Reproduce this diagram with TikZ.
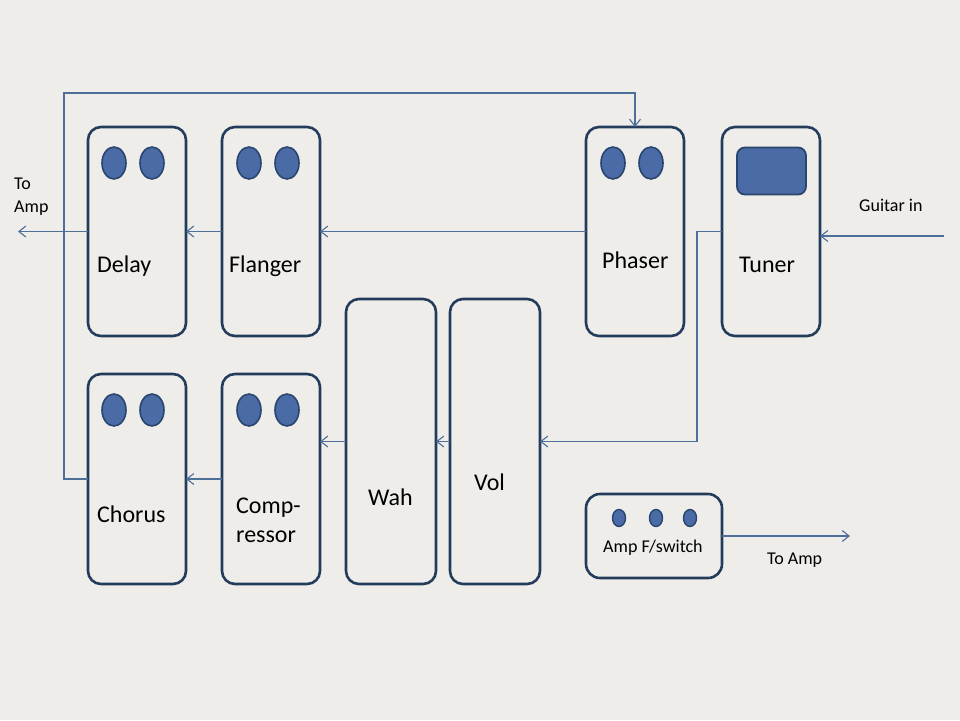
\documentclass[tikz,border=0pt]{standalone}
\usepackage{fontspec}
\setmainfont{Carlito}
\usetikzlibrary{arrows.meta,shapes.geometric}
\definecolor{bg}{HTML}{EEEDEA}
\definecolor{boxc}{HTML}{243C5C}
\definecolor{knobf}{HTML}{4A6BA5}
\definecolor{knobd}{HTML}{2A456E}
\definecolor{linec}{HTML}{4F6F9B}
\begin{document}
\begin{tikzpicture}[x=1pt,y=-1pt,
  pedal/.style={draw=boxc,line width=2.6pt,rounded corners=13pt,fill=bg,inner sep=0pt,outer sep=0pt},
  knob/.style={ellipse,draw=knobd,line width=1.6pt,fill=knobf,minimum width=24pt,minimum height=32pt,inner sep=0pt},
  sknob/.style={ellipse,draw=knobd,line width=1.4pt,fill=knobf,minimum width=13pt,minimum height=17pt,inner sep=0pt},
  screen/.style={draw=knobd,line width=1.8pt,fill=knobf,rounded corners=8pt,minimum width=69pt,minimum height=47pt,inner sep=0pt},
  big/.style={font=\fontsize{24}{29}\selectfont,anchor=base west,inner sep=0pt,align=left},
  small/.style={font=\fontsize{18}{23}\selectfont,anchor=base west,inner sep=0pt,align=left},
  conn/.style={draw=linec,line width=1.1pt,-{Straight Barb[length=7pt,width=11pt,line width=1.1pt]}},
  plain/.style={draw=linec,line width=1.1pt}]
\fill[bg] (0,0) rectangle (960,720);
\useasboundingbox (0,0) rectangle (960,720);
% pedals
\node[pedal,minimum width=98pt,minimum height=209pt] (delay) at (137,231.5) {};
\node[pedal,minimum width=98pt,minimum height=209pt] (flanger) at (271,231.5) {};
\node[pedal,minimum width=98pt,minimum height=209pt] (phaser) at (635,231.5) {};
\node[pedal,minimum width=98pt,minimum height=209pt] (tuner) at (771,231.5) {};
\node[pedal,minimum width=98pt,minimum height=210pt] (chorus) at (137,479) {};
\node[pedal,minimum width=98pt,minimum height=210pt] (comp) at (271,479) {};
\node[pedal,minimum width=90pt,minimum height=285pt] (wah) at (391,441.5) {};
\node[pedal,minimum width=90pt,minimum height=285pt] (vol) at (495,441.5) {};
\node[pedal,minimum width=136pt,minimum height=84pt,rounded corners=14pt] (amps) at (654,536) {};
% knobs
\node[knob] (dk1) at (114,163) {};
\node[knob] (dk2) at (152,163) {};
\node[knob] (fk1) at (249,163) {};
\node[knob] (fk2) at (287,163) {};
\node[knob] (pk1) at (613,163) {};
\node[knob] (pk2) at (651,163) {};
\node[knob] (ck1) at (114,410) {};
\node[knob] (ck2) at (152,410) {};
\node[knob] (mk1) at (249,410) {};
\node[knob] (mk2) at (287,410) {};
\node[screen] (scr) at (771.5,171) {};
\node[sknob] (sk1) at (619,518) {};
\node[sknob] (sk2) at (656,518) {};
\node[sknob] (sk3) at (690,518) {};
% labels
\node[big] (tdelay) at (97,272) {Delay};
\node[big] (tflanger) at (229,272) {Flanger};
\node[big] (tphaser) at (602,268) {Phaser};
\node[big] (ttuner) at (739,272) {Tuner};
\node[big] (tchorus) at (97,522) {Chorus};
\node[big] (tcomp) at (236,542) {Comp-\\ressor};
\node[big] (twah) at (368,505) {Wah};
\node[big] (tvol) at (474,490) {Vol};
\node[small] (tamps) at (603,552) {Amp F/switch};
\node[small] (ttoamp2) at (767,564) {To Amp};
\node[small] (tgin) at (859,211) {Guitar in};
\node[small] (ttoamp1) at (14,212) {To\\Amp};
% connector ends
\coordinate (gin) at (944,236);
\coordinate (out1) at (18,231.5);
\coordinate (out2) at (850,536);
% connectors
\draw[conn] (gin) -- (gin -| tuner.east);
\draw[conn] (tuner.west) -- ++(-25,0) |- (vol.east);
\draw[conn] (vol.west) -- (wah.east);
\draw[conn] (wah.west) -- (wah.west -| comp.east);
\draw[conn] (comp.west) -- (chorus.east);
\draw[conn] (chorus.west) -- ++(-24,0) |- ([yshift=34pt]phaser.north) -- (phaser.north);
\draw[conn] (phaser.west) -- (flanger.east);
\draw[conn] (flanger.west) -- (delay.east);
\draw[conn] (delay.west) -- (out1);
\draw[conn] (amps.east) -- (out2);
\end{tikzpicture}
\end{document}
